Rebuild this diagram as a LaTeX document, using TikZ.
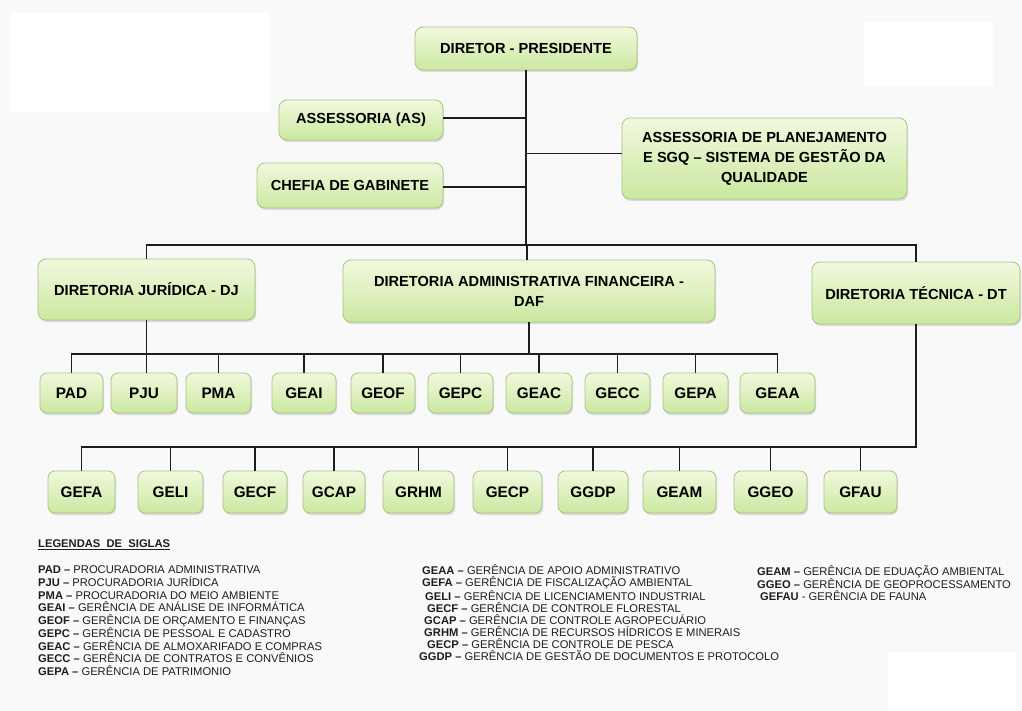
\documentclass[tikz,border=0pt]{standalone}
\usepackage{fontspec}
\setmainfont{Liberation Sans}
\usetikzlibrary{shadows}
\definecolor{bgcol}{HTML}{F9F9F9}
\definecolor{boxtop}{HTML}{F1F9DE}
\definecolor{boxbot}{HTML}{CBE8A0}
\definecolor{boxline}{HTML}{A6C583}
\definecolor{linecol}{HTML}{1E1E1E}
\tikzset{
  box/.style={rectangle, rounded corners=8pt, draw=boxline, line width=0.8pt,
    top color=boxtop, bottom color=boxbot, inner sep=2pt, align=center,
    drop shadow={shadow xshift=1pt, shadow yshift=-2pt, opacity=0.25},
    font=\fontsize{14.6}{20}\selectfont\bfseries},
  unit/.style={box, rounded corners=7pt, font=\fontsize{15.3}{18}\selectfont\bfseries},
  link/.style={draw=linecol, line width=1.8pt},
  legend/.style={anchor=north west, inner sep=0pt, align=left, text=linecol}
}
\begin{document}
\begin{tikzpicture}[x=1pt, y=-1pt]
   \useasboundingbox (0,0) rectangle (1022,711);
   \fill[bgcol] (0,0) rectangle (1022,711);
   \fill[white] (10,13) rectangle (270,112);
   \fill[white] (864,22) rectangle (993,87);
   \fill[white] (888,652) rectangle (1016,711);

   \node [box, minimum width=222pt, minimum height=43pt] (dp) at (526,48.5) {DIRETOR - PRESIDENTE};
   \node [box, minimum width=164pt, minimum height=40pt] (as) at (361,120) {ASSESSORIA (AS)};
   \node [box, minimum width=186pt, minimum height=45pt] (cg) at (350,185.5) {CHEFIA DE GABINETE};
   \node [box, minimum width=285pt, minimum height=81pt] (aps) at (764.5,158.5)
         {ASSESSORIA DE PLANEJAMENTO\\ E SGQ -- SISTEMA DE GESTÃO DA\\ QUALIDADE};

   \node [box, minimum width=217pt, minimum height=61pt] (dj) at (146.5,289.5) {DIRETORIA JURÍDICA - DJ};
   \node [box, minimum width=372pt, minimum height=62pt] (daf) at (529,291) {DIRETORIA ADMINISTRATIVA FINANCEIRA -\\ DAF};
   \node [box, minimum width=208pt, minimum height=62pt] (dt) at (916,293) {DIRETORIA TÉCNICA - DT};

   % first row
   \foreach \t/\x/\w in {PAD/71.5/63, PJU/144/66, PMA/218.5/65, GEAI/304/64, GEOF/383/64,
                         GEPC/460.5/65, GEAC/539/66, GECC/617.5/65, GEPA/695.5/65, GEAA/777.5/75}
      \node [unit, minimum width=\w pt, minimum height=40pt] (\t) at (\x,393) {\t};

   % second row
   \foreach \t/\x/\w in {GEFA/81.5/67, GELI/170.5/65, GECF/255/64, GCAP/334/62, GRHM/418.5/71,
                         GECP/507.5/69, GGDP/593/70, GEAM/679.5/73, GGEO/770.5/73, GFAU/860.5/73}
      \node [unit, minimum width=\w pt, minimum height=42pt] (\t) at (\x,492) {\t};

   \coordinate (tb) at (527,245);
   \coordinate (r1) at (527,354);
   \coordinate (r2) at (527,447);

   \path[link] (dp.south) -- (dp.south |- tb)
               ([yshift=2pt]as.east) -- ([yshift=2pt]as.east -| dp.south)
               ([yshift=-1.5pt]cg.east) -- ([yshift=-1.5pt]cg.east -| dp.south)
               ([yshift=5pt]aps.west) -- ([yshift=5pt]aps.west -| dp.south)
               (dj.north) |- (tb) -| (dt.north)
               (tb) -- (tb |- daf.north);

   \path[link] (PAD.north) |- (r1) -| (GEAA.north)
               (dj.south) -- (dj.south |- PJU.north)
               (daf.south) -- (daf.south |- r1);
   \foreach \t in {PMA,GEAI,GEOF,GEPC,GEAC,GECC,GEPA}
      \path[link] (\t.north) -- (\t.north |- r1);

   \path[link] (dt.south) |- (r2) -| (GEFA.north);
   \foreach \t in {GELI,GECF,GCAP,GRHM,GECP,GGDP,GEAM,GGEO,GFAU}
      \path[link] (\t.north) -- (\t.north |- r2);

   % legend
   \node [anchor=west, inner sep=0pt, text=linecol, font=\fontsize{11.2}{13}\selectfont\bfseries] (leg) at (38,545)
         {\underline{LEGENDAS\ \ DE\ \ SIGLAS}};
   \node [legend, font=\fontsize{11.2}{12.75}\selectfont] (col1) at (38,565.5)
         {\textbf{PAD –} PROCURADORIA ADMINISTRATIVA\\
          \textbf{PJU –} PROCURADORIA JURÍDICA\\
          \textbf{PMA –} PROCURADORIA DO MEIO AMBIENTE\\
          \textbf{GEAI –} GERÊNCIA DE ANÁLISE DE INFORMÁTICA\\
          \textbf{GEOF –} GERÊNCIA DE ORÇAMENTO E FINANÇAS\\
          \textbf{GEPC –} GERÊNCIA DE PESSOAL E CADASTRO\\
          \textbf{GEAC –} GERÊNCIA DE ALMOXARIFADO E COMPRAS\\
          \textbf{GECC –} GERÊNCIA DE CONTRATOS E CONVÊNIOS\\
          \textbf{GEPA –} GERÊNCIA DE PATRIMONIO};
   \node [legend, font=\fontsize{11.2}{12}\selectfont] (col2) at (422,565)
         {\textbf{GEAA –} GERÊNCIA DE APOIO ADMINISTRATIVO\\
          \textbf{GEFA –} GERÊNCIA DE FISCALIZAÇÃO AMBIENTAL\\
          \hspace*{3pt}\textbf{GELI –} GERÊNCIA DE LICENCIAMENTO INDUSTRIAL\\
          \hspace*{5pt}\textbf{GECF –} GERÊNCIA DE CONTROLE FLORESTAL\\
          \hspace*{2pt}\textbf{GCAP –} GERÊNCIA DE CONTROLE AGROPECUÁRIO\\
          \hspace*{2pt}\textbf{GRHM –} GERÊNCIA DE RECURSOS HÍDRICOS E MINERAIS\\
          \hspace*{5pt}\textbf{GECP –} GERÊNCIA DE CONTROLE DE PESCA\\
          \hspace*{-3pt}\textbf{GGDP –} GERÊNCIA DE GESTÃO DE DOCUMENTOS E PROTOCOLO};
   \node [legend, font=\fontsize{11.2}{12}\selectfont] (col3) at (757,565)
         {\textbf{GEAM –} GERÊNCIA DE EDUAÇÃO AMBIENTAL\\
          \textbf{GGEO –} GERÊNCIA DE GEOPROCESSAMENTO\\
          \hspace*{3pt}\textbf{GEFAU} - GERÊNCIA DE FAUNA};
\end{tikzpicture}
\end{document}
